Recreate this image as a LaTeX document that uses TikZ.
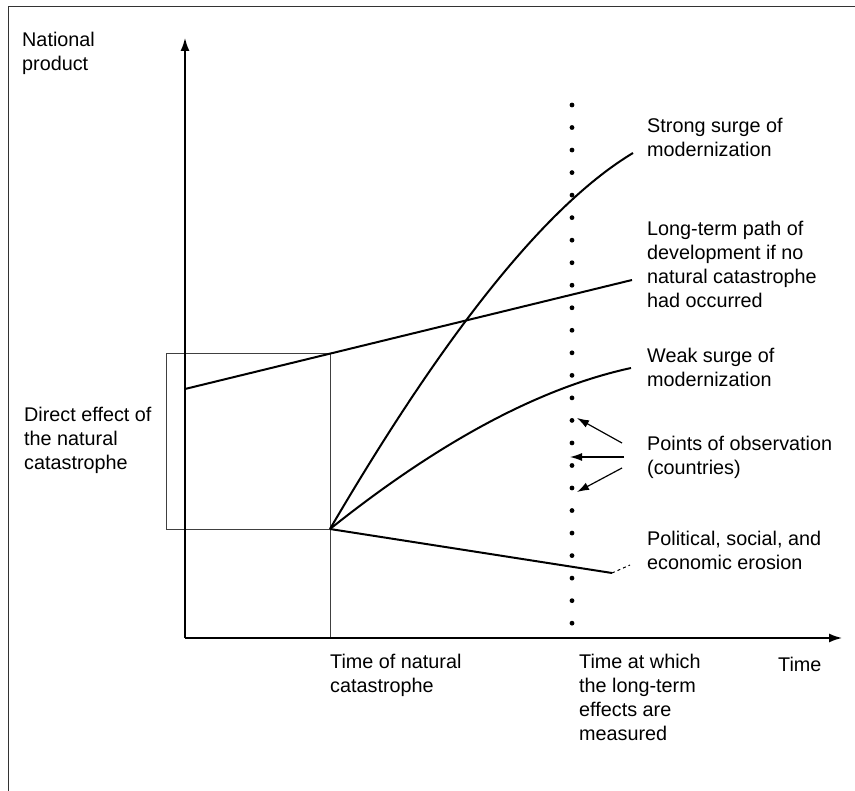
\documentclass[tikz,border=0pt]{standalone}
\usepackage{fontspec}
\setmainfont{Liberation Sans}
\usetikzlibrary{arrows.meta}
\tikzset{
  lbl/.style={anchor=north west, inner sep=0pt, align=left, font=\fontsize{19.8}{24}\selectfont},
  curve/.style={line width=2pt},
  guide/.style={line width=0.8pt, black!75},
  axis/.style={line width=1.5pt, -{Latex[length=13pt,width=9pt]}},
  pointer/.style={line width=1.2pt, -{Latex[length=12pt,width=8pt]}}
}
\begin{document}
\begin{tikzpicture}[x=1pt,y=-1pt]
\useasboundingbox (0,0) rectangle (855,791);
\draw[line width=1pt,black!80] (8,791) -- (8,7) -- (855,7);

\coordinate (O) at (185,638);
\coordinate (cat) at (330,529);
\draw[guide] (166,353) rectangle (cat);
\draw[guide] (330,353) -- (330,638);

\draw[axis] (O) -- (185,38);
\draw[axis] (O) -- (842,638);

% observation points
\foreach \i in {0,...,23}
  \fill (572,{105+22.53*\i}) circle (2.4pt);

\draw[curve] (185,389) -- (632,280);
\draw[curve] (cat) .. controls (447,329) and (548,204) .. (633,153);
\draw[curve] (cat) .. controls (439,442) and (539,388) .. (631,368);
\draw[curve] (cat) -- (612,573);
\draw[line width=1pt,dashed] (612,573) -- (630,565);

\node[lbl] (yname) at (22,32) {National\\product};
\node[lbl] (direct) at (24,407) {Direct effect of\\the natural\\catastrophe};
\node[lbl] (strong) at (647,118) {Strong surge of\\modernization};
\node[lbl] (longterm) at (647,221) {Long-term path of\\development if no\\natural catastrophe\\had occurred};
\node[lbl] (weak) at (647,348) {Weak surge of\\modernization};
\node[lbl] (obs) at (647,436) {Points of observation\\(countries)};
\node[lbl] (erosion) at (647,531) {Political, social, and\\economic erosion};
\node[lbl] (tcat) at (330,654) {Time of natural\\catastrophe};
\node[lbl] (tmeas) at (579,654) {Time at which\\the long-term\\effects are\\measured};
\node[lbl] (xname) at (778,657) {Time};

\coordinate (a1) at (622,443); \coordinate (b1) at (577,418);
\coordinate (a2) at (624,457); \coordinate (b2) at (570,457);
\coordinate (a3) at (622,468); \coordinate (b3) at (577,492);
\foreach \k in {1,2,3}
  \draw[pointer] (a\k) -- (b\k);
\end{tikzpicture}
\end{document}
